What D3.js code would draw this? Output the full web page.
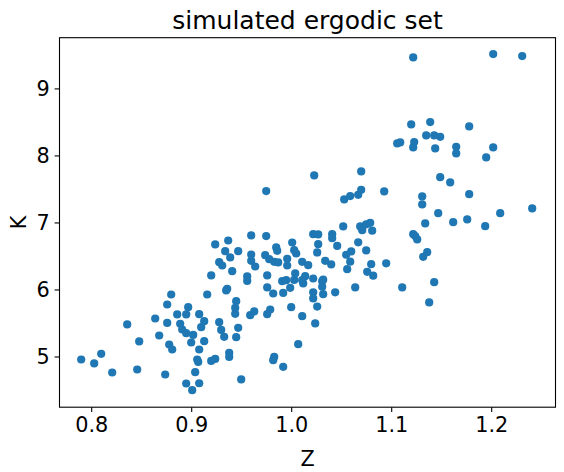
<!DOCTYPE html>
<html><head><meta charset="utf-8">
<script src="https://cdn.jsdelivr.net/npm/d3@7"></script>
<style>body{margin:0;background:#fff}svg{font-family:"DejaVu Sans",sans-serif}</style>
</head><body><svg id="c" width="564" height="472"></svg>
<script>
const title = "simulated ergodic set";
const xLabel = "Z", yLabel = "K";
const xTicks = [0.8, 0.9, 1.0, 1.1, 1.2];
const yTicks = [5, 6, 7, 8, 9];
const Z = [.790,.803,.810,.821,.836,.846,.848,.864,.868,.874,.876,.876,.880,.878,.881,.886,.889,.891,.895,.897,.895,.900,.902,.908,.910,.913,.908,.913,.906,.907,.904,.895,.901,.908,.916,.920,.924,.920,.924,.928,.931,.934,.937,.939,.941,.947,.936,.935,.928,.930,.933,.938,.938,.944,.945,.944,.947,.945,.950,.956,.956,.960,.960,.960,.964,.959,.963,.975,.974,.978,.976,.976,.982,.979,.976,.983,.987,.985,.986,.983,.982,.992,.992,.991,.995,.996,.996,.999,1.001,1.003,1.003,1.000,1.004,1.007,1.011,1.011,1.011,.975,
1.023,1.070,1.053,1.059,1.067,1.070,1.093,1.052,1.069,1.071,1.075,1.079,1.081,1.022,1.027,1.041,1.041,1.027,1.026,1.046,1.067,1.075,1.060,1.055,1.059,1.056,1.080,1.076,1.082,1.095,1.064,1.111,1.034,1.040,1.044,1.031,1.032,1.022,1.022,1.026,1.024,1.031,1.005,1.017,1.014,1.012,1.022,1.032,
1.122,1.202,1.231,1.120,1.139,1.178,1.135,1.143,1.149,1.106,1.109,1.123,1.122,1.144,1.165,1.165,1.202,1.195,1.149,1.159,1.131,1.131,1.178,1.147,1.134,1.162,1.176,1.194,1.209,1.241,1.122,1.124,1.126,1.132,1.136,1.143,1.138];
const K = [4.955,4.896,5.039,4.761,5.478,4.806,5.224,5.567,5.313,4.731,5.501,5.776,5.925,5.179,5.104,5.627,5.487,5.403,5.627,5.736,5.348,5.209,5.322,5.631,5.437,5.527,5.104,5.228,4.955,4.919,4.766,4.597,4.497,4.601,5.925,4.934,4.964,6.209,6.672,6.407,6.358,6.572,6.731,6.478,6.273,6.572,6.009,5.985,5.512,5.397,5.293,5.054,4.994,5.725,5.825,5.636,5.427,5.288,4.657,6.194,6.128,6.806,6.522,6.427,6.343,5.616,5.672,6.796,6.512,6.452,6.209,6.030,5.940,5.701,5.631,6.412,6.403,6.627,6.576,4.994,4.945,4.845,5.949,6.124,6.139,6.457,6.358,6.024,6.701,6.587,6.143,5.736,6.239,5.184,5.601,6.412,6.139,7.468,
7.701,7.761,7.343,7.393,7.412,7.487,7.463,6.940,6.940,6.885,6.972,6.994,6.878,6.825,6.822,6.825,6.766,6.676,6.552,6.649,6.703,6.582,6.567,6.518,6.415,6.303,6.378,6.263,6.206,6.390,6.031,6.031,6.428,6.373,5.957,6.124,5.930,5.957,5.866,5.745,5.494,6.039,6.537,6.363,6.198,6.090,6.164,6.146,
9.463,9.512,9.482,8.463,8.497,8.433,8.299,8.299,8.278,8.179,8.194,8.199,8.119,8.104,8.128,8.030,8.119,7.970,7.676,7.597,7.388,7.269,7.422,7.139,6.985,7.004,7.045,6.945,7.139,7.209,6.825,6.796,6.746,6.487,6.557,6.109,5.806];

const L = 59.5, T = 37.7, W = 496, H = 369.5;
const svg = d3.select("#c");
const x = d3.scaleLinear().domain([0.7683, 1.2643]).range([L, L + W]);
const y = d3.scaleLinear().domain([4.2433, 9.7567]).range([T + H, T]);

svg.append("g").selectAll("circle").data(Z.map((z, i) => [z, K[i]])).join("circle")
  .attr("cx", d => x(d[0])).attr("cy", d => y(d[1])).attr("r", 4.1).attr("fill", "#1f77b4");

const xa = svg.append("g").attr("transform", `translate(0,${T + H})`)
  .call(d3.axisBottom(x).tickValues(xTicks).tickFormat(d3.format(".1f")).tickSizeOuter(0).tickSize(4.9).tickPadding(4.9));
const ya = svg.append("g").attr("transform", `translate(${L},0)`)
  .call(d3.axisLeft(y).tickValues(yTicks).tickFormat(d3.format("d")).tickSizeOuter(0).tickSize(4.9).tickPadding(4.9));
[xa, ya].forEach(a => { a.selectAll("text").attr("font-size", 20.8).attr("fill", "#000").attr("font-family", "DejaVu Sans");
  a.selectAll("line").attr("stroke", "#000").attr("stroke-width", 1.1); a.select(".domain").remove(); });
svg.append("rect").attr("x", L).attr("y", T).attr("width", W).attr("height", H)
  .attr("fill", "none").attr("stroke", "#000").attr("stroke-width", 1.1);

svg.append("text").attr("x", L + W / 2).attr("y", 29).attr("text-anchor", "middle")
  .attr("font-size", 25).text(title);
svg.append("text").attr("x", L + W / 2).attr("y", 466).attr("text-anchor", "middle")
  .attr("font-size", 20.8).text(xLabel);
svg.append("text").attr("transform", `translate(26,${T + H / 2}) rotate(-90)`).attr("text-anchor", "middle")
  .attr("font-size", 20.8).text(yLabel);
</script></body></html>
